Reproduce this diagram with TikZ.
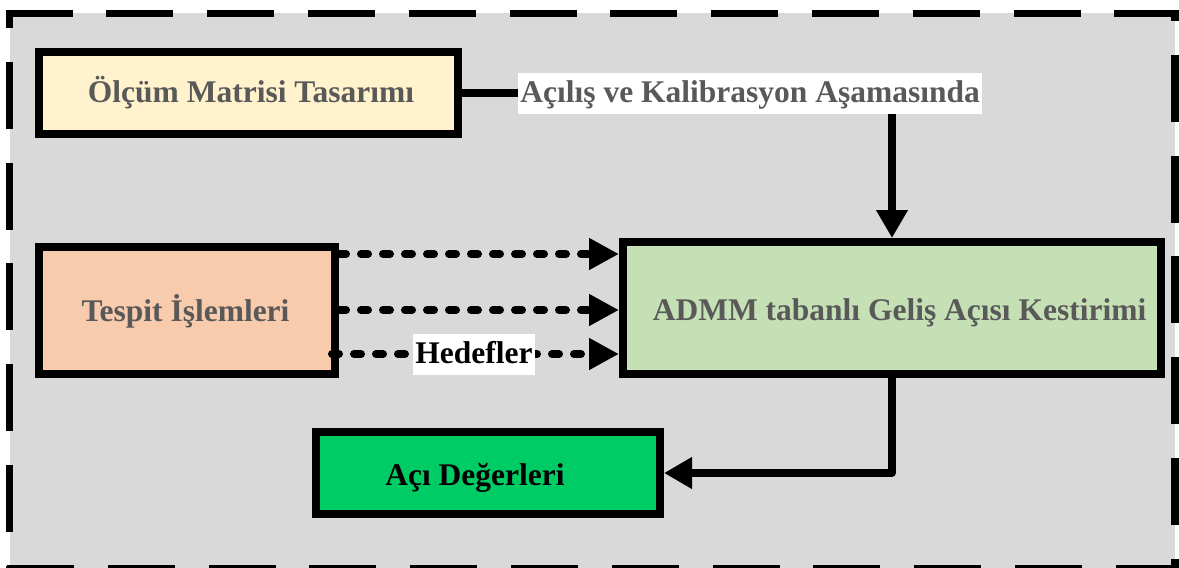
\documentclass[tikz,border=0pt]{standalone}
\usepackage{fontspec}
\setmainfont{Liberation Serif}
\usetikzlibrary{arrows.meta}
\definecolor{panelgray}{HTML}{D9D9D9}
\definecolor{txtgray}{HTML}{595959}
\definecolor{fillyellow}{HTML}{FFF2CC}
\definecolor{fillpeach}{HTML}{F8CBAD}
\definecolor{fillsage}{HTML}{C5E0B4}
\definecolor{fillgreen}{HTML}{00CC66}
\begin{document}
\begin{tikzpicture}[x=1pt,y=-1pt,
  frame/.style={line width=7.5pt, dash pattern=on 67pt off 33.8pt},
  block/.style={draw=black, line width=8pt, inner sep=0pt},
  btext/.style={font=\fontsize{31.5}{36}\selectfont\bfseries, text=txtgray, inner sep=0pt, anchor=base},
  lbl/.style={fill=white, font=\fontsize{31.5}{36}\selectfont\bfseries, inner xsep=2pt, inner ysep=2pt, text height=28pt, text depth=9pt},
  conn/.style={line width=7.5pt, line join=round, -{Triangle[length=28pt,width=30pt]}},
  dotarrow/.style={line width=8pt, line cap=round, dash pattern=on 7pt off 15pt, -{Triangle[length=30pt,width=30pt]}}]
\useasboundingbox (0,0) rectangle (1179,568);

% grey panel with a dashed frame, one side at a time
\fill[panelgray] (9.5,13.3) rectangle (1175,569);
\draw[frame] (5.5,13.3) -- (1179,13.3);
\draw[frame, dash phase=55.5pt] (1175,9.5) -- (1175,572);
\draw[frame, dash phase=48.5pt] (9.5,9.5) -- (9.5,572);
\draw[frame] (7,569) -- (1179,569);

% blocks
\node[block, fill=fillyellow, minimum width=419pt, minimum height=82pt] (olcum) at (248.5,93) {};
\node[block, fill=fillpeach, minimum width=296pt, minimum height=127pt] (tespit) at (187,310.5) {};
\node[block, fill=fillsage, minimum width=538pt, minimum height=132pt] (admm) at (892,308) {};
\node[block, fill=fillgreen, minimum width=344pt, minimum height=82pt] (aci) at (488,473) {};

% block captions
\node[btext] (olcumtxt) at (251,102) {Ölçüm Matrisi Tasarımı};
\node[btext] (tespittxt) at (185.5,321) {Tespit İşlemleri};
\node[btext] (admmtxt) at (899.5,320) {ADMM tabanlı Geliş Açısı Kestirimi};
\node[btext, text=black] (acitxt) at (475,485) {Açı Değerleri};

% connectors
\coordinate (r1) at (0,254);
\coordinate (r2) at (0,310);
\coordinate (r3) at (0,354);
\path (tespit.east |- r3) ++(-7,0) coordinate (t3);

\draw[conn] (olcum.east) -| (admm.north)
  node[lbl, pos=0.335, text=txtgray] (phase) {Açılış ve Kalibrasyon Aşamasında};
\draw[dotarrow] (tespit.east |- r1) -- (admm.west |- r1);
\draw[dotarrow] (tespit.east |- r2) -- (admm.west |- r2);
\draw[dotarrow] (t3) -- (admm.west |- r3)
  node[lbl, pos=0.495, text=black] (targets) {Hedefler};
\draw[conn] (admm.south) |- (aci.east);
\end{tikzpicture}
\end{document}
